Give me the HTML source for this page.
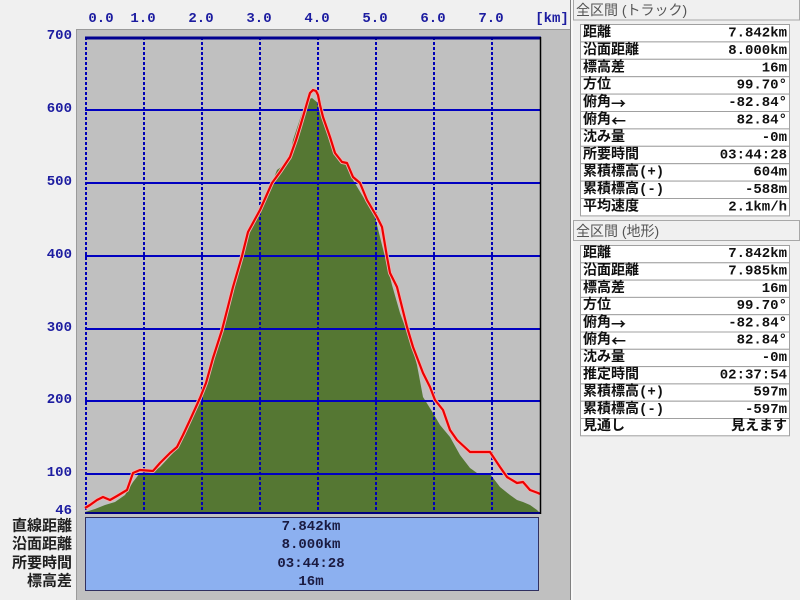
<!DOCTYPE html>
<html><head><meta charset="utf-8"><style>
html,body{margin:0;padding:0;background:#f0f0f0;width:800px;height:600px;overflow:hidden}
svg{display:block}
.ax{font-family:"Liberation Mono","Noto Sans CJK JP",monospace;font-weight:bold;font-size:14px;fill:#1c1ca0}
.lb{font-family:"Liberation Mono","Noto Sans CJK JP",monospace;font-weight:bold;font-size:14px;fill:#101010}
.ar{font-family:"Noto Sans CJK JP",sans-serif;font-size:15px;font-weight:bold}
.bl{font-family:"Liberation Mono","Noto Sans CJK JP",monospace;font-weight:bold;font-size:15px;fill:#202020}
.bv{font-family:"Liberation Mono","Noto Sans CJK JP",monospace;font-weight:bold;font-size:14px;fill:#1a1a40}
.hd{font-family:"Liberation Sans","Noto Sans CJK JP",sans-serif;font-size:14px;fill:#555}
</style></head><body>
<svg width="800" height="600" viewBox="0 0 800 600" xmlns="http://www.w3.org/2000/svg">
<rect x="0" y="0" width="800" height="600" fill="#f0f0f0"/>
<rect x="76" y="29" width="495" height="571" fill="#c0c0c0"/>
<line x1="76.5" y1="29" x2="76.5" y2="600" stroke="#9a9a9a" stroke-width="1"/>
<line x1="76" y1="29.5" x2="571" y2="29.5" stroke="#9a9a9a" stroke-width="1"/>
<line x1="570.5" y1="0" x2="570.5" y2="600" stroke="#808080" stroke-width="1"/>
<line x1="572" y1="0" x2="572" y2="600" stroke="#ffffff" stroke-width="1"/>
<rect x="85" y="37" width="455" height="477" fill="#c0c0c0"/>
<polygon fill="#557733" points="85,512 95,509 105,505 115,502 125,495 133,482 140,473 153,472 160,467 173,453 183,433 190,418 200,397 206,380 213,357 222,330 233,287 242,257 248,232 255,216 262,202 272,183 277,170 284,165 290,157 293,140 298,125 302,113 307,100 312,98 318,103 323,120 328,137 333,152 340,159 346,164 353,180 365,200 375,217 385,257 392,285 400,313 410,340 417,365 423,397 433,413 440,425 450,437 460,455 470,468 477,473 490,474 500,487 510,495 517,500 523,502 530,505 537,510 540,513 540,514 85,514"/>
<g stroke="#0000c0" stroke-width="2">
<line x1="85" y1="110" x2="540" y2="110"/>
<line x1="85" y1="183" x2="540" y2="183"/>
<line x1="85" y1="256" x2="540" y2="256"/>
<line x1="85" y1="329" x2="540" y2="329"/>
<line x1="85" y1="401" x2="540" y2="401"/>
<line x1="85" y1="474" x2="540" y2="474"/>
</g>
<g stroke="#0000b8" stroke-width="2" stroke-dasharray="3,2">
<line x1="86" y1="37" x2="86" y2="513"/>
<line x1="144" y1="37" x2="144" y2="513"/>
<line x1="202" y1="37" x2="202" y2="513"/>
<line x1="260" y1="37" x2="260" y2="513"/>
<line x1="318" y1="37" x2="318" y2="513"/>
<line x1="376" y1="37" x2="376" y2="513"/>
<line x1="434" y1="37" x2="434" y2="513"/>
<line x1="492" y1="37" x2="492" y2="513"/>
</g>
<polyline fill="none" stroke="#f0b0b0" stroke-width="4" stroke-linejoin="round" points="85,508 90,505 97,500 103,497 110,500 117,496 127,490 133,473 140,470 153,471 160,463 170,453 177,447 183,435 190,420 200,398 206,383 213,358 222,330 233,287 242,256 248,232 260,210 272,183 280,172 290,157 296,140 300,127 305,110 307,103 310,93 313,90 316,91 318,95 320,105 323,117 330,137 335,153 342,162 347,163 353,177 360,183 367,200 377,217 382,227 387,257 390,273 397,287 407,327 413,347 423,373 430,387 435,400 443,410 450,430 457,440 470,452 490,452 500,467 507,477 517,483 523,482 530,490 538,493 540,494"/>
<polyline fill="none" stroke="#ee0000" stroke-width="2.2" stroke-linejoin="round" points="85,508 90,505 97,500 103,497 110,500 117,496 127,490 133,473 140,470 153,471 160,463 170,453 177,447 183,435 190,420 200,398 206,383 213,358 222,330 233,287 242,256 248,232 260,210 272,183 280,172 290,157 296,140 300,127 305,110 307,103 310,93 313,90 316,91 318,95 320,105 323,117 330,137 335,153 342,162 347,163 353,177 360,183 367,200 377,217 382,227 387,257 390,273 397,287 407,327 413,347 423,373 430,387 435,400 443,410 450,430 457,440 470,452 490,452 500,467 507,477 517,483 523,482 530,490 538,493 540,494"/>
<line x1="85" y1="38" x2="541" y2="38" stroke="#000090" stroke-width="3"/>
<line x1="85" y1="513" x2="541" y2="513" stroke="#000080" stroke-width="2"/>
<line x1="540.5" y1="37" x2="540.5" y2="514" stroke="#000000" stroke-width="1.5"/>
<g class="ax" text-anchor="middle" dominant-baseline="central">
<text x="101" y="19">0.0</text>
<text x="143" y="19">1.0</text>
<text x="201" y="19">2.0</text>
<text x="259" y="19">3.0</text>
<text x="317" y="19">4.0</text>
<text x="375" y="19">5.0</text>
<text x="433" y="19">6.0</text>
<text x="491" y="19">7.0</text>
<text x="552" y="19">[km]</text>
</g>
<g class="ax" text-anchor="end" dominant-baseline="central">
<text x="72" y="36">700</text>
<text x="72" y="109">600</text>
<text x="72" y="182">500</text>
<text x="72" y="255">400</text>
<text x="72" y="328">300</text>
<text x="72" y="400">200</text>
<text x="72" y="473">100</text>
<text x="72" y="511">46</text>
</g>
<rect x="85.5" y="517.5" width="453" height="73" fill="#8cb0f0" stroke="#303060" stroke-width="1"/>
<g class="bl" text-anchor="end" dominant-baseline="central">
<text x="72" y="527">直線距離</text>
<text x="72" y="545">沿面距離</text>
<text x="72" y="564">所要時間</text>
<text x="72" y="582">標高差</text>
</g>
<g class="bv" text-anchor="middle" dominant-baseline="central">
<text x="311" y="527">7.842km</text>
<text x="311" y="545">8.000km</text>
<text x="311" y="564">03:44:28</text>
<text x="311" y="582">16m</text>
</g>
<rect x="573.5" y="-1" width="226" height="21" fill="#f0f0f0" stroke="#a8a8a8"/>
<text class="hd" x="576" y="10" dominant-baseline="central">全区間 (トラック)</text>
<rect x="573.5" y="220.5" width="226" height="20" fill="#f0f0f0" stroke="#a8a8a8"/>
<text class="hd" x="576" y="231" dominant-baseline="central">全区間 (地形)</text>
<g fill="#ffffff" stroke="#a0a0a0" stroke-width="1">
<rect x="580.5" y="24.5" width="209" height="17.4"/>
<rect x="580.5" y="41.9" width="209" height="17.4"/>
<rect x="580.5" y="59.3" width="209" height="17.4"/>
<rect x="580.5" y="76.7" width="209" height="17.4"/>
<rect x="580.5" y="94.1" width="209" height="17.4"/>
<rect x="580.5" y="111.5" width="209" height="17.4"/>
<rect x="580.5" y="128.9" width="209" height="17.4"/>
<rect x="580.5" y="146.3" width="209" height="17.4"/>
<rect x="580.5" y="163.7" width="209" height="17.4"/>
<rect x="580.5" y="181.1" width="209" height="17.4"/>
<rect x="580.5" y="198.5" width="209" height="17.4"/>
</g>
<g class="lb" dominant-baseline="central">
<text x="583" y="33.5">距離</text>
<text x="583" y="50.9">沿面距離</text>
<text x="583" y="68.3">標高差</text>
<text x="583" y="85.7">方位</text>
<text x="583" y="103.1">俯角<tspan class="ar">→</tspan></text>
<text x="583" y="120.5">俯角<tspan class="ar">←</tspan></text>
<text x="583" y="137.9">沈み量</text>
<text x="583" y="155.3">所要時間</text>
<text x="583" y="172.7">累積標高(+)</text>
<text x="583" y="190.1">累積標高(-)</text>
<text x="583" y="207.5">平均速度</text>
</g>
<g class="lb" text-anchor="end" dominant-baseline="central">
<text x="787" y="33.5">7.842km</text>
<text x="787" y="50.9">8.000km</text>
<text x="787" y="68.3">16m</text>
<text x="787" y="85.7">99.70°</text>
<text x="787" y="103.1">-82.84°</text>
<text x="787" y="120.5">82.84°</text>
<text x="787" y="137.9">-0m</text>
<text x="787" y="155.3">03:44:28</text>
<text x="787" y="172.7">604m</text>
<text x="787" y="190.1">-588m</text>
<text x="787" y="207.5">2.1km/h</text>
</g>
<g fill="#ffffff" stroke="#a0a0a0" stroke-width="1">
<rect x="580.5" y="245.5" width="209" height="17.3"/>
<rect x="580.5" y="262.8" width="209" height="17.3"/>
<rect x="580.5" y="280.1" width="209" height="17.3"/>
<rect x="580.5" y="297.4" width="209" height="17.3"/>
<rect x="580.5" y="314.7" width="209" height="17.3"/>
<rect x="580.5" y="332.0" width="209" height="17.3"/>
<rect x="580.5" y="349.3" width="209" height="17.3"/>
<rect x="580.5" y="366.6" width="209" height="17.3"/>
<rect x="580.5" y="383.9" width="209" height="17.3"/>
<rect x="580.5" y="401.2" width="209" height="17.3"/>
<rect x="580.5" y="418.5" width="209" height="17.3"/>
</g>
<g class="lb" dominant-baseline="central">
<text x="583" y="254.2">距離</text>
<text x="583" y="271.5">沿面距離</text>
<text x="583" y="288.8">標高差</text>
<text x="583" y="306.1">方位</text>
<text x="583" y="323.4">俯角<tspan class="ar">→</tspan></text>
<text x="583" y="340.7">俯角<tspan class="ar">←</tspan></text>
<text x="583" y="358.0">沈み量</text>
<text x="583" y="375.3">推定時間</text>
<text x="583" y="392.6">累積標高(+)</text>
<text x="583" y="409.9">累積標高(-)</text>
<text x="583" y="427.2">見通し</text>
</g>
<g class="lb" text-anchor="end" dominant-baseline="central">
<text x="787" y="254.2">7.842km</text>
<text x="787" y="271.5">7.985km</text>
<text x="787" y="288.8">16m</text>
<text x="787" y="306.1">99.70°</text>
<text x="787" y="323.4">-82.84°</text>
<text x="787" y="340.7">82.84°</text>
<text x="787" y="358.0">-0m</text>
<text x="787" y="375.3">02:37:54</text>
<text x="787" y="392.6">597m</text>
<text x="787" y="409.9">-597m</text>
<text x="787" y="427.2">見えます</text>
</g>
</svg>
</body></html>
